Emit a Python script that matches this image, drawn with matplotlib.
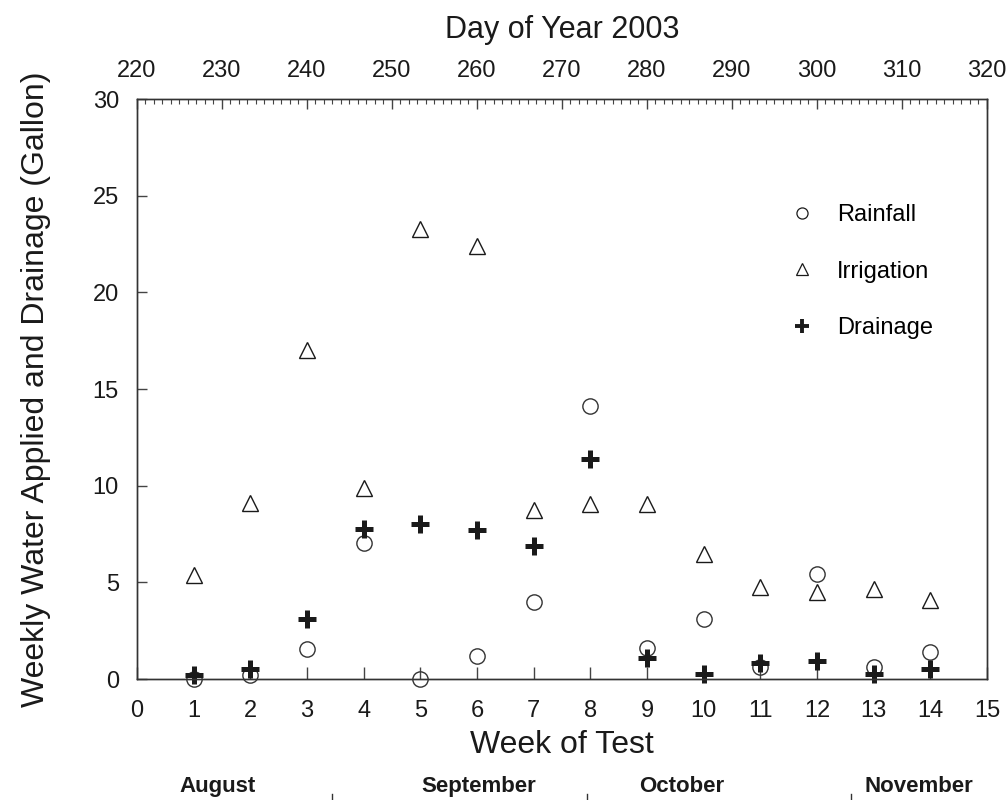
import numpy as np
import matplotlib.pyplot as plt
from matplotlib.lines import Line2D
import matplotlib.transforms as mtransforms

plt.rcParams['font.family'] = ['Liberation Sans', 'DejaVu Sans']

weeks = np.arange(1, 15)
rainfall = [0.0, 0.2, 1.55, 7.05, 0.0, 1.2, 4.0, 14.1, 1.6, 3.1, 0.6, 5.45, 0.6, 1.4]
irrigation = [5.4, 9.1, 17.0, 9.9, 23.3, 22.4, 8.75, 9.05, 9.05, 6.45, 4.75, 4.5, 4.65, 4.1]
drainage = [0.2, 0.5, 3.1, 7.75, 8.0, 7.7, 6.9, 11.4, 1.1, 0.25, 0.85, 0.95, 0.25, 0.5]

months = ['August', 'September', 'October', 'November']
month_label_day = [229.5, 260.2, 284.1, 312.0]
month_end_day = [243, 273, 304]

ink = '#1a1a1a'

fig = plt.figure(figsize=(10.08, 8.0), dpi=100)
ax = fig.add_axes([0.1359, 0.15125, 0.8432, 0.725])

ax.plot(weeks, irrigation, linestyle='none', marker='^', markersize=12,
        markerfacecolor='none', markeredgecolor=ink, markeredgewidth=1.0,
        label='Irrigation', clip_on=False)
ax.plot(weeks, rainfall, linestyle='none', marker='o', markersize=11,
        markerfacecolor='none', markeredgecolor='#333333', markeredgewidth=1.0,
        label='Rainfall', clip_on=False)
ax.plot(weeks, drainage, linestyle='none', marker='+', markersize=13,
        markeredgecolor=ink, markeredgewidth=3.6, label='Drainage', clip_on=False)

ax.set_xlim(0, 15)
ax.set_ylim(0, 30)
ax.set_xticks(np.arange(0, 16))
ax.set_yticks(np.arange(0, 31, 5))
ax.tick_params(axis='x', direction='in', length=9, width=1, color='#444444',
               labelsize=17, pad=15, labelcolor=ink)
ax.tick_params(axis='y', direction='in', length=7, width=1, color='#444444',
               labelsize=17, pad=13, labelcolor=ink)
for s in ax.spines.values():
    s.set_linewidth(1.0)
    s.set_color('#333333')

ax.set_xlabel('Week of Test', fontsize=23, color=ink, labelpad=6)
ax.set_ylabel('Weekly Water Applied and Drainage (Gallon)', fontsize=23,
              color=ink, labelpad=30)

# day-of-year scale along the top
top = ax.twiny()
top.set_xlim(220, 320)
top.set_xticks(np.arange(220, 321, 10))
top.set_xticks(np.arange(220, 321, 1), minor=True)
top.tick_params(axis='x', which='major', direction='in', length=7, width=1,
                color='#444444', labelsize=17, pad=12, labelcolor=ink)
top.tick_params(axis='x', which='minor', direction='in', length=3.5, width=0.8,
                color='#444444')
top.set_xlabel('Day of Year 2003', fontsize=22, color=ink, labelpad=16)
for s in top.spines.values():
    s.set_linewidth(1.0)
    s.set_color('#333333')

# month names under the week axis, placed on the day scale
trans = mtransforms.blended_transform_factory(top.transData, fig.transFigure)
for name, d in zip(months, month_label_day):
    fig.text(d, 0.017, name, transform=trans, ha='center', va='center',
             fontsize=16, fontweight='bold', color=ink)
for d in month_end_day:
    top.plot([d, d], [0.0, 0.007], transform=trans, color='#333333',
             linewidth=1.0, clip_on=False)

handles = [
    Line2D([], [], linestyle='none', marker='o', markersize=8,
           markerfacecolor='none', markeredgecolor=ink, markeredgewidth=0.9),
    Line2D([], [], linestyle='none', marker='^', markersize=8,
           markerfacecolor='none', markeredgecolor=ink, markeredgewidth=0.9),
    Line2D([], [], linestyle='none', marker='+', markersize=10,
           markeredgecolor=ink, markeredgewidth=2.8),
]
ax.legend(handles, ['Rainfall', 'Irrigation', 'Drainage'], frameon=False,
          fontsize=17, labelspacing=1.45, handletextpad=0.95, handlelength=1.0,
          loc='upper left', bbox_to_anchor=(0.744, 0.855))

fig.savefig('out.png', dpi=100)
